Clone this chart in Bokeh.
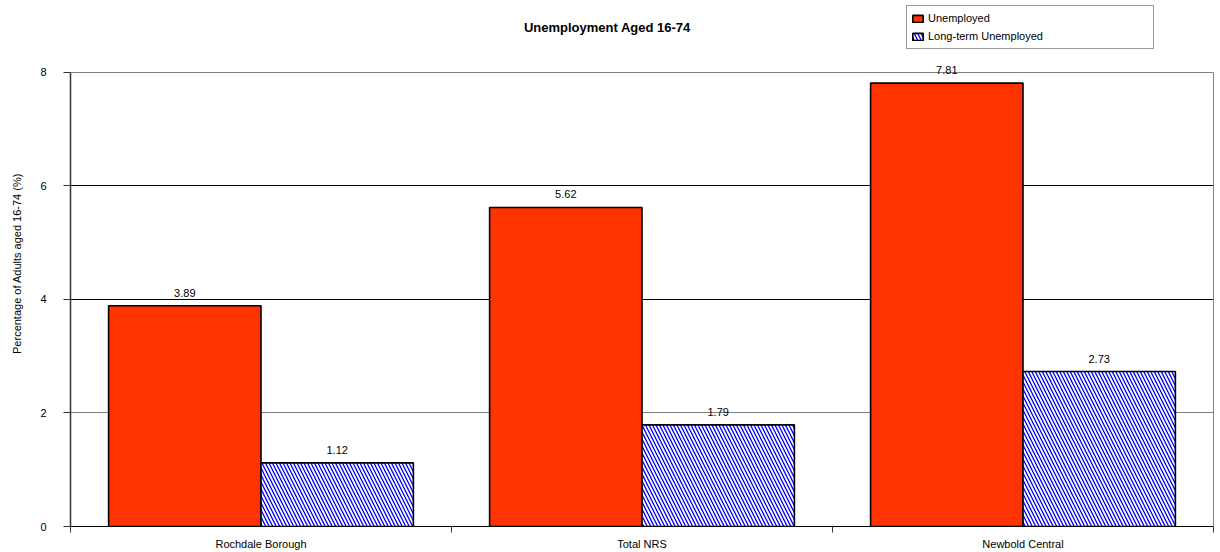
from bokeh.plotting import figure
from bokeh.models import (ColumnDataSource, Range1d, FixedTicker, LabelSet, Label,
                          Legend, LegendItem, LinearAxis, Grid)
from bokeh.embed import file_html
from bokeh.resources import INLINE
from bokeh.core.properties import value

categories = ["Rochdale Borough", "Total NRS", "Newbold Central"]
unemployed = [3.89, 5.62, 7.81]
long_term = [1.12, 1.79, 2.73]
series_names = ["Unemployed", "Long-term Unemployed"]
y_ticks = [0, 2, 4, 6, 8]
title_text = "Unemployment Aged 16-74"
y_label = "Percentage of Adults aged 16-74 (%)"

FONT = "Liberation Sans"
n = len(categories)
idx = list(range(n))
y_max = max(y_ticks)

src1 = ColumnDataSource(dict(x=[i + 0.3 for i in idx], top=unemployed,
                             lbl=[f"{v:.2f}" for v in unemployed]))
src2 = ColumnDataSource(dict(x=[i + 0.7 for i in idx], top=long_term,
                             lbl=[f"{v:.2f}" for v in long_term]))

# the frame reaches the top of the canvas so the title and legend are not clipped;
# the visible plot box (0..8) is drawn with bounded axes and grid lines
W, H = 1220, 552
F_LEFT, F_RIGHT, F_BOTTOM = 70, 1213, 527
PLOT_TOP = 72
y_top = y_max * F_BOTTOM / (F_BOTTOM - PLOT_TOP)

p = figure(width=W, height=H, x_range=Range1d(0, n), y_range=Range1d(0, y_top),
           output_backend="svg", toolbar_location=None,
           min_border_left=F_LEFT, min_border_right=W - F_RIGHT, min_border_top=0,
           min_border_bottom=H - F_BOTTOM)
p.title_location = None
p.outline_line_color = None
p.background_fill_color = "white"
p.border_fill_color = "white"

# grids
p.xgrid.grid_line_color = None
p.ygrid.ticker = FixedTicker(ticks=[4, 6])
p.ygrid.grid_line_color = "#000000"
p.ygrid.grid_line_width = 1
g2 = Grid(dimension=1, ticker=FixedTicker(ticks=[2, 8]), grid_line_color="#808080",
          grid_line_width=1)
p.add_layout(g2, "center")

r1 = p.vbar(x="x", top="top", width=0.4, source=src1, fill_color="#FF3300",
            line_color="black", line_width=1.6)
r2 = p.vbar(x="x", top="top", width=0.4, source=src2, fill_color="white",
            hatch_pattern="\\", hatch_color="#0000FF", hatch_scale=7, hatch_weight=1.3,
            line_color="black", line_width=1.6)

for s in (src1, src2):
    p.add_layout(LabelSet(x="x", y="top", text="lbl", source=s, y_offset=9,
                          text_align="center", text_baseline="bottom",
                          text_font=value(FONT), text_font_size="11px", text_color="#000000"))

# x axis
xa = p.xaxis[0]
xa.ticker = FixedTicker(ticks=[i + 0.5 for i in idx], minor_ticks=list(range(n + 1)))
xa.major_label_overrides = {i + 0.5: c for i, c in zip(idx, categories)}
xa.major_tick_out = 0
xa.major_tick_in = 0
xa.minor_tick_out = 6
xa.minor_tick_in = 0
xa.minor_tick_line_color = "#333333"
xa.axis_line_color = "#000000"
xa.major_label_standoff = 5
xa.major_label_text_font = FONT
xa.major_label_text_font_size = "11px"
xa.major_label_text_color = "#000000"

# y axis
ya = p.yaxis[0]
ya.ticker = FixedTicker(ticks=y_ticks)
ya.bounds = (0, y_max)
ya.minor_tick_line_color = None
ya.major_tick_out = 7
ya.major_tick_in = 0
ya.major_tick_line_color = "#333333"
ya.axis_line_color = "#333333"
ya.axis_line_width = 1.5
ya.major_label_standoff = 17
ya.major_label_text_font = FONT
ya.major_label_text_font_size = "11px"
ya.major_label_text_color = "#000000"
ya.axis_label = y_label
ya.axis_label_text_font = FONT
ya.axis_label_text_font_size = "11px"
ya.axis_label_text_font_style = "normal"
ya.axis_label_text_color = "#000000"
ya.axis_label_standoff = 14

# right border of the plot box
ra = LinearAxis(bounds=(0, y_max), ticker=FixedTicker(ticks=[]),
                major_tick_line_color=None, minor_tick_line_color=None,
                major_label_standoff=0, major_label_text_font_size="0px",
                axis_line_color="#808080", axis_line_width=1)
p.add_layout(ra, "right")

# title
p.add_layout(Label(x=1.409, y=8.79, text=title_text, text_align="center",
                   text_baseline="middle", text_font=FONT, text_font_size="13px",
                   text_font_style="bold", text_color="#000000"))

legend = Legend(items=[LegendItem(label=series_names[0], renderers=[r1]),
                       LegendItem(label=series_names[1], renderers=[r2])],
                location=(836, 477), orientation="vertical",
                glyph_width=13, glyph_height=9, label_height=16, spacing=2,
                padding=4, margin=0, label_standoff=4, label_width=221,
                label_text_font=FONT, label_text_font_size="11px", label_text_color="#000000",
                border_line_color="#333333", border_line_width=1,
                background_fill_color="white", background_fill_alpha=1)
p.add_layout(legend)

open("out.html", "w").write(file_html(p, INLINE))
